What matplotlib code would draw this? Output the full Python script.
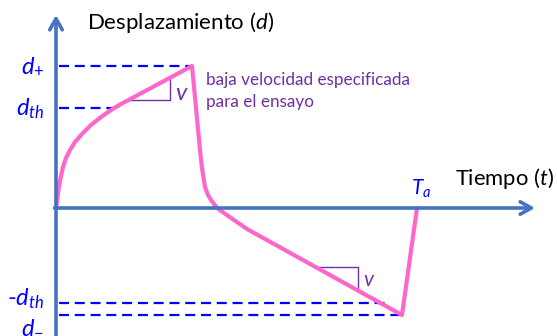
import matplotlib.pyplot as plt

plt.rcParams['mathtext.fontset'] = 'custom'
plt.rcParams['mathtext.it'] = 'Lato:italic'
plt.rcParams['mathtext.rm'] = 'Lato'
plt.rcParams['font.family'] = ['Lato', 'DejaVu Sans']

# schematic curve (t, d), origin where the axes cross
curve_t = [0, 1, 2, 3, 5, 7, 10, 14, 19, 26, 35, 45, 55, 65, 136,
           140, 144, 146, 149, 152, 155, 161, 168, 178, 191, 346, 361]
curve_d = [0, 6, 15, 22, 32, 41, 50, 58, 66, 74, 83, 91, 98, 104, 142,
           100, 58, 40, 21, 13, 8, 0, -5, -12, -21, -107, 0]

# reference levels and where their dashed guides end
levels = [142, 100, -95, -107]
level_ends = [136, 58, 329, 346]
level_labels = ["$d_{+}$", "$d_{th}$", "-$d_{th}$", "$d_{-}$"]
label_base = [136, 93, -97, -125]

# slope triangles (corner, horizontal start, vertical end)
tri_up_t = [72, 114, 114]
tri_up_d = [108, 108, 130]
tri_dn_t = [261, 302, 302]
tri_dn_d = [-59, -59, -82]

t_a = 361

axis_col = "#4472C4"
pink = "#FF66CC"
blue = "#0000FF"
purple = "#7030A0"

fig = plt.figure(figsize=(5.57, 3.36), dpi=100)
ax = fig.add_axes([0, 0, 1, 1])
ax.set_xlim(-56, 501)
ax.set_ylim(-128, 208)
ax.axis("off")

arrow = dict(arrowstyle="->,head_length=0.8,head_width=0.45", lw=2.6, color=axis_col,
             shrinkA=0, shrinkB=0)
ax.annotate("", xy=(0, 193), xytext=(0, -140), arrowprops=arrow)
ax.annotate("", xy=(479, 0), xytext=(-1.5, 0), arrowprops=arrow)

for lev, end, lab, base in zip(levels, level_ends, level_labels, label_base):
    ax.plot([3, end], [lev, lev], color=blue, lw=1.6, dashes=(4.5, 2.6))
    ax.text(-12, base, lab, color=blue, fontsize=17, ha="right", va="baseline")

ax.plot(tri_up_t, tri_up_d, color=purple, lw=1)
ax.plot(tri_dn_t, tri_dn_d, color=purple, lw=1)
ax.text(119, 108, "$v$", color=purple, fontsize=17, ha="left", va="baseline")
ax.text(307, -78, "$v$", color=purple, fontsize=15, ha="left", va="baseline")

ax.plot(curve_t, curve_d, color=pink, lw=3, solid_joinstyle="round", solid_capstyle="round")

ax.text(31, 179, "Desplazamiento ($d$)", fontsize=16, color="black", ha="left", va="baseline")
ax.text(399, 23, "Tiempo ($t$)", fontsize=15.8, color="black", ha="left", va="baseline")
ax.text(t_a - 6, 13, "$T_a$", fontsize=15, color=blue, ha="left", va="baseline")

ax.text(150, 123, "baja velocidad especificada", fontsize=12.3, color=purple,
        ha="left", va="baseline")
ax.text(150, 101, "para el ensayo", fontsize=12.3, color=purple,
        ha="left", va="baseline")

fig.savefig("out.png", dpi=100)
